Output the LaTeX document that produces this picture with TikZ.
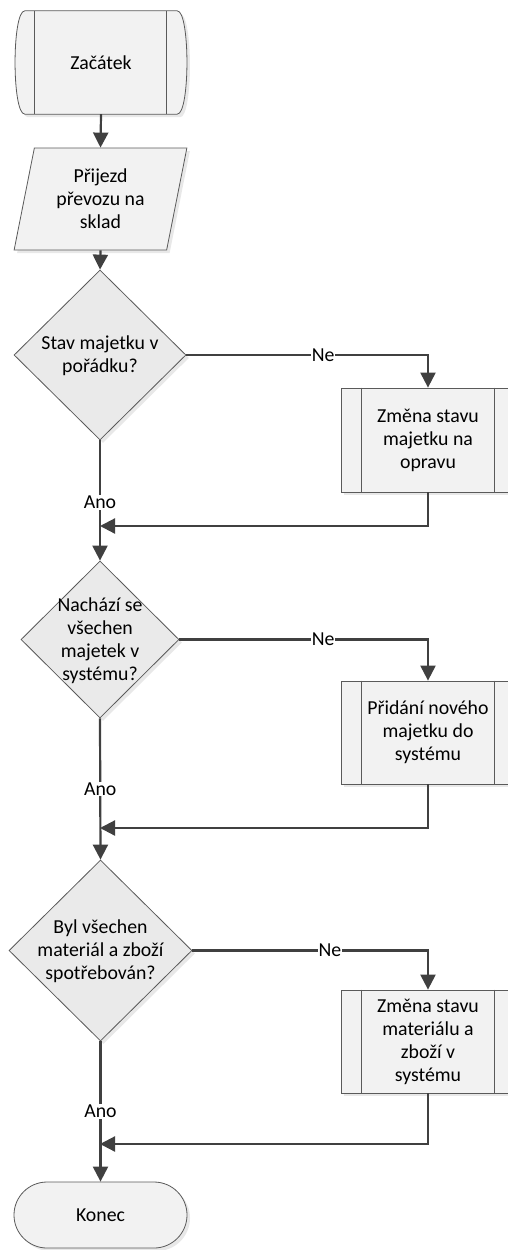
\documentclass[tikz,border=0pt]{standalone}
\usepackage{fontspec}
\setmainfont{Carlito}
\usetikzlibrary{arrows.meta,shapes.geometric,shapes.misc,calc,shadows,backgrounds}
\definecolor{linec}{HTML}{404040}
\definecolor{borderc}{HTML}{5A5A5A}
\definecolor{boxfill}{HTML}{F2F2F2}
\definecolor{decfill}{HTML}{EAEAEA}
\begin{document}
\begin{tikzpicture}[x=1pt,y=-1pt,
  every node/.style={font=\fontsize{19.8pt}{23pt}\selectfont, text=black},
  shadowed/.style={drop shadow={opacity=0.18,shadow xshift=3pt,shadow yshift=-3pt}},
  shapeb/.style={draw=borderc, line width=0.8pt},
  procbox/.style={shapeb, fill=boxfill, rectangle, minimum width=174pt, align=center, inner sep=0pt, shadowed},
  decision/.style={shapeb, fill=decfill, diamond, inner sep=0pt, shadowed},
  dtext/.style={align=center, inner sep=0pt},
  conn/.style={draw=linec, line width=2.2pt, -{Triangle[width=15pt,length=15pt]}},
  lbl/.style={fill=white, inner sep=1pt}
]
\useasboundingbox (0,0) rectangle (507,1250);

% Start
\node[rectangle, minimum width=152pt, minimum height=103pt, inner sep=0pt] (start) at (101,62.5) {Začátek};
\begin{scope}[on background layer]
\filldraw[shapeb, fill=boxfill, shadowed] (start.north west) -- (start.north east)
  .. controls +(13,0) and +(13,0) .. (start.south east) -- (start.south west)
  .. controls +(-13,0) and +(-13,0) .. cycle;
\draw[shapeb] ($(start.north west)+(10,0)$) -- ($(start.south west)+(10,0)$);
\draw[shapeb] ($(start.north east)+(-11,0)$) -- ($(start.south east)+(-11,0)$);
\end{scope}

% Input
\node[shapeb, fill=boxfill, trapezium, trapezium left angle=77.3, trapezium right angle=102.7,
  trapezium stretches=true, minimum width=173pt, minimum height=102pt, inner sep=0pt,
  align=center, shadowed] (arr) at (100.5,199) {Přijezd\\převozu na\\sklad};

% Decision 1
\node[decision, minimum width=172pt, minimum height=170pt] (d1) at (100,355) {};
\node[dtext] (d1t) at (100,356) {Stav majetku v\\pořádku?};
\node[procbox, minimum height=104pt] (b1) at (428,440) {Změna stavu\\majetku na\\opravu};
\draw[shapeb] ($(b1.north west)+(21,0)$) -- ($(b1.south west)+(21,0)$);
\draw[shapeb] ($(b1.north east)+(-21,0)$) -- ($(b1.south east)+(-21,0)$);
\coordinate (m1) at (100,526);

% Decision 2
\node[decision, minimum width=158pt, minimum height=157pt] (d2) at (100,639.5) {};
\node[dtext] (d2t) at (100,641) {Nachází se\\všechen\\majetek v\\systému?};
\node[procbox, minimum height=103pt] (b2) at (428,732.5) {Přidání nového\\majetku do\\systému};
\draw[shapeb] ($(b2.north west)+(21,0)$) -- ($(b2.south west)+(21,0)$);
\draw[shapeb] ($(b2.north east)+(-21,0)$) -- ($(b2.south east)+(-21,0)$);
\coordinate (m2) at (100,828);

% Decision 3
\node[decision, minimum width=183pt, minimum height=181pt] (d3) at (100.5,950.5) {};
\node[dtext] (d3t) at (100.5,951) {Byl všechen\\materiál a zboží\\spotřebován?};
\node[procbox, minimum height=103pt] (b3) at (428,1041.5) {Změna stavu\\materiálu a\\zboží v\\systému};
\draw[shapeb] ($(b3.north west)+(21,0)$) -- ($(b3.south west)+(21,0)$);
\draw[shapeb] ($(b3.north east)+(-21,0)$) -- ($(b3.south east)+(-21,0)$);
\coordinate (m3) at (100,1144);

% End
\node[shapeb, fill=boxfill, rounded rectangle, minimum width=173pt, minimum height=66pt,
  inner sep=0pt, shadowed] (konec) at (100.5,1215) {Konec};

% Connectors
\draw[conn] (start.south) -- (arr.north);
\draw[conn] (arr.south) -- (d1.north);

\draw[conn] (d1.east) -| node[lbl, pos=0.283]{Ne} (b1.north);
\draw[conn] (d1.south) -- node[lbl, pos=0.516]{Ano} (d2.north);
\draw[conn] (b1.south) |- (m1);

\draw[conn] (d2.east) -| node[lbl, pos=0.289]{Ne} (b2.north);
\draw[conn] (d2.south) -- node[lbl, pos=0.5]{Ano} (d3.north);
\draw[conn] (b2.south) |- (m2);

\draw[conn] (d3.east) -| node[lbl, pos=0.292]{Ne} (b3.north);
\draw[conn] (d3.south) -- node[lbl, pos=0.5]{Ano} (konec.north);
\draw[conn] (b3.south) |- (m3);
\end{tikzpicture}
\end{document}
